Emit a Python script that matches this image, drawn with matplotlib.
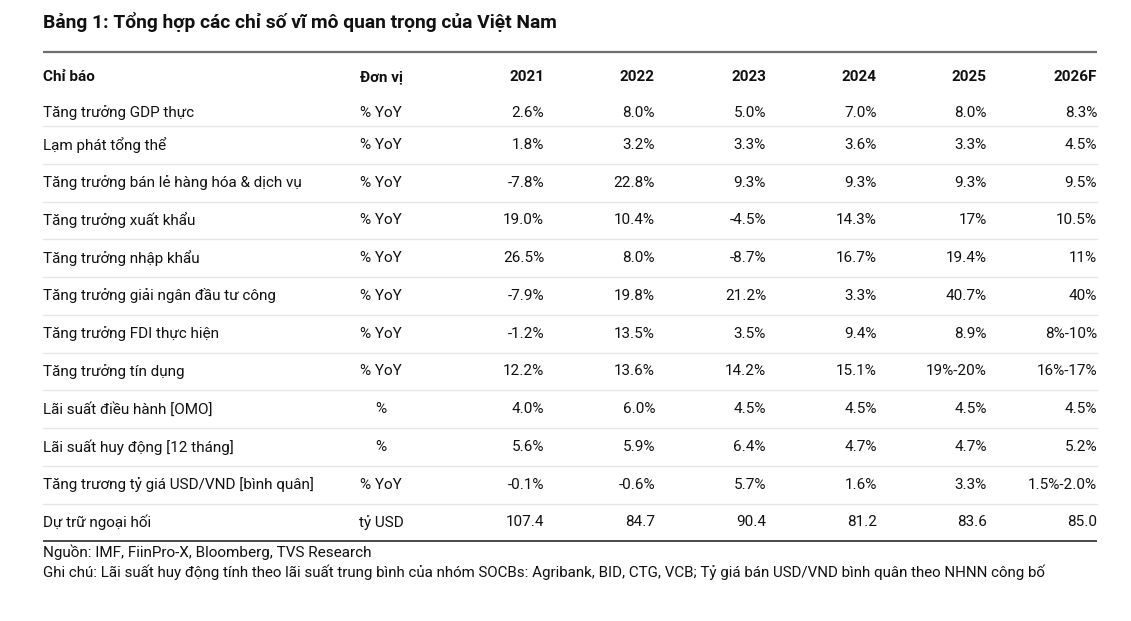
import matplotlib.pyplot as plt

plt.rcParams['font.family'] = ['Roboto', 'DejaVu Sans']

# Dữ liệu bảng
title = "Bảng 1: Tổng hợp các chỉ số vĩ mô quan trọng của Việt Nam"
headers = ["Chỉ báo", "Đơn vị", "2021", "2022", "2023", "2024", "2025", "2026F"]
indicators = [
    "Tăng trưởng GDP thực",
    "Lạm phát tổng thể",
    "Tăng trưởng bán lẻ hàng hóa & dịch vụ",
    "Tăng trưởng xuất khẩu",
    "Tăng trưởng nhập khẩu",
    "Tăng trưởng giải ngân đầu tư công",
    "Tăng trưởng FDI thực hiện",
    "Tăng trưởng tín dụng",
    "Lãi suất điều hành [OMO]",
    "Lãi suất huy động [12 tháng]",
    "Tăng trương tỷ giá USD/VND [bình quân]",
    "Dự trữ ngoại hối",
]
units = ["% YoY", "% YoY", "% YoY", "% YoY", "% YoY", "% YoY", "% YoY",
         "% YoY", "%", "%", "% YoY", "tỷ USD"]
v2021 = ["2.6%", "1.8%", "-7.8%", "19.0%", "26.5%", "-7.9%", "-1.2%", "12.2%", "4.0%", "5.6%", "-0.1%", "107.4"]
v2022 = ["8.0%", "3.2%", "22.8%", "10.4%", "8.0%", "19.8%", "13.5%", "13.6%", "6.0%", "5.9%", "-0.6%", "84.7"]
v2023 = ["5.0%", "3.3%", "9.3%", "-4.5%", "-8.7%", "21.2%", "3.5%", "14.2%", "4.5%", "6.4%", "5.7%", "90.4"]
v2024 = ["7.0%", "3.6%", "9.3%", "14.3%", "16.7%", "3.3%", "9.4%", "15.1%", "4.5%", "4.7%", "1.6%", "81.2"]
v2025 = ["8.0%", "3.3%", "9.3%", "17%", "19.4%", "40.7%", "8.9%", "19%-20%", "4.5%", "4.7%", "3.3%", "83.6"]
v2026 = ["8.3%", "4.5%", "9.5%", "10.5%", "11%", "40%", "8%-10%", "16%-17%", "4.5%", "5.2%", "1.5%-2.0%", "85.0"]
source = "Nguồn: IMF, FiinPro-X, Bloomberg, TVS Research"
note = ("Ghi chú: Lãi suất huy động tính theo lãi suất trung bình của nhóm SOCBs: "
        "Agribank, BID, CTG, VCB; Tỷ giá bán USD/VND bình quân theo NHNN công bố")

W, H = 1131, 621
fig = plt.figure(figsize=(W / 100, H / 100), dpi=100)
ax = fig.add_axes([0, 0, 1, 1])
ax.set_xlim(0, W)
ax.set_ylim(H, 0)
ax.axis('off')

txt = '#111111'
fs = 11
left, right = 43, 1097
unit_x = 381
year_x = [544, 655, 766, 877, 987, 1097]
year_cols = [v2021, v2022, v2023, v2024, v2025, v2026]

ax.text(left, 22, title, fontsize=13.85, fontweight='bold', color=txt, va='center')
ax.plot([left, right], [52, 52], color='#6e6e6e', lw=1.6, solid_capstyle='butt')

# tiêu đề cột
header_y = 77
ax.text(left, header_y, headers[0], fontsize=fs, fontweight='bold', color=txt, va='center')
ax.text(unit_x, header_y, headers[1], fontsize=fs, fontweight='bold', color=txt, va='center', ha='center')
for x, h in zip(year_x, headers[2:]):
    ax.text(x, header_y, h, fontsize=fs, fontweight='bold', color=txt, va='center', ha='right')

step = 37.75
first_sep = 126
for i, name in enumerate(indicators):
    y = 113 if i == 0 else first_sep + step * (i - 0.5)
    ax.text(left, y, name, fontsize=fs, color=txt, va='center')
    ax.text(unit_x, y, units[i], fontsize=fs, color=txt, va='center', ha='center')
    for x, col in zip(year_x, year_cols):
        ax.text(x, y, col[i], fontsize=fs, color=txt, va='center', ha='right')
    sep_y = first_sep + step * i
    if i < len(indicators) - 1:
        ax.plot([left, right], [sep_y, sep_y], color='#e6e6e6', lw=1)
    else:
        ax.plot([left, right], [sep_y, sep_y], color='#3a3a3a', lw=1.3, solid_capstyle='butt')

ax.text(left, 552, source, fontsize=fs, color=txt, va='center')
ax.text(left, 572, note, fontsize=10.88, color=txt, va='center')

fig.savefig('out.png', dpi=100, facecolor='white')
